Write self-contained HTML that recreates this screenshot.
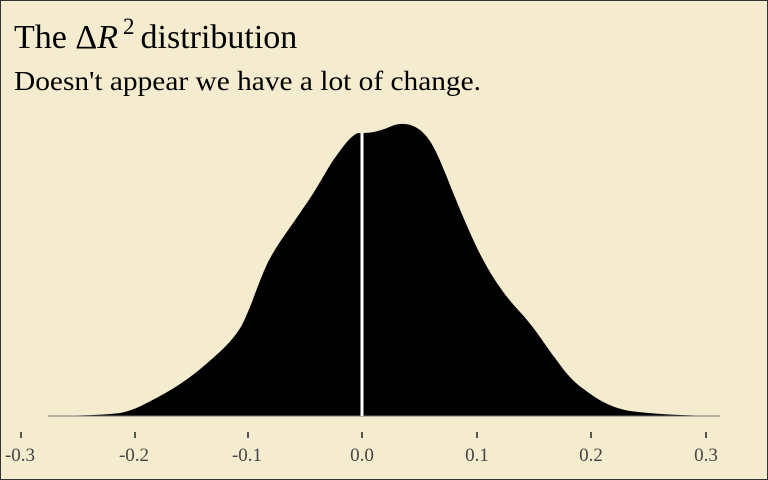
<!DOCTYPE html>
<html><head><style>
body{margin:0;background:#f5ebce}
svg{display:block}
text{font-family:"Liberation Serif",serif}
</style></head><body>
<svg width="768" height="480" viewBox="0 0 768 480">
<rect x="0.5" y="0.5" width="767" height="479" fill="#f5ebce" stroke="#333" stroke-width="1"/>
<text x="14" y="48" font-size="34">The Δ<tspan font-style="italic">R</tspan><tspan font-size="23" dx="5" dy="-14">2</tspan><tspan dx="6" dy="14">distribution</tspan></text>
<text x="14" y="90" font-size="27" textLength="467" lengthAdjust="spacingAndGlyphs">Doesn't appear we have a lot of change.</text>
<path d="M48,416 C80,415.5 105,415 120,413 C135,410 145,404 160,396 C175,388 190,378 205,365 C220,352 232,342 242,325 C252,305 258,283 268,262 C278,243 290,228 302,210 C315,192 322,178 332,162 C342,148 350,136 358,133 L364,133 C372,133 380,131 392,126 C402,122 412,124 420,130 C430,138 436,150 446,175 C456,200 466,225 478,250 C492,278 505,296 520,312 C535,328 545,345 555,358 C565,372 573,382 585,390 C598,400 612,408 630,411 C660,415 690,415.5 720,416 Z" fill="#000"/>
<line x1="48" y1="416" x2="720" y2="416" stroke="#777" stroke-width="1"/>
<line x1="362" y1="133" x2="362" y2="416" stroke="#fff" stroke-width="3"/>
<g stroke="#222" stroke-width="1.5">
<line x1="21" y1="432" x2="21" y2="438"/><line x1="135" y1="432" x2="135" y2="438"/><line x1="248" y1="432" x2="248" y2="438"/><line x1="362" y1="432" x2="362" y2="438"/><line x1="477" y1="432" x2="477" y2="438"/><line x1="591" y1="432" x2="591" y2="438"/><line x1="706" y1="432" x2="706" y2="438"/>
</g>
<g font-size="19" fill="#444" text-anchor="middle">
<text x="20" y="461">-0.3</text><text x="134" y="461">-0.2</text><text x="247" y="461">-0.1</text><text x="362" y="461">0.0</text><text x="477" y="461">0.1</text><text x="591" y="461">0.2</text><text x="706" y="461">0.3</text>
</g>
</svg>
</body></html>
